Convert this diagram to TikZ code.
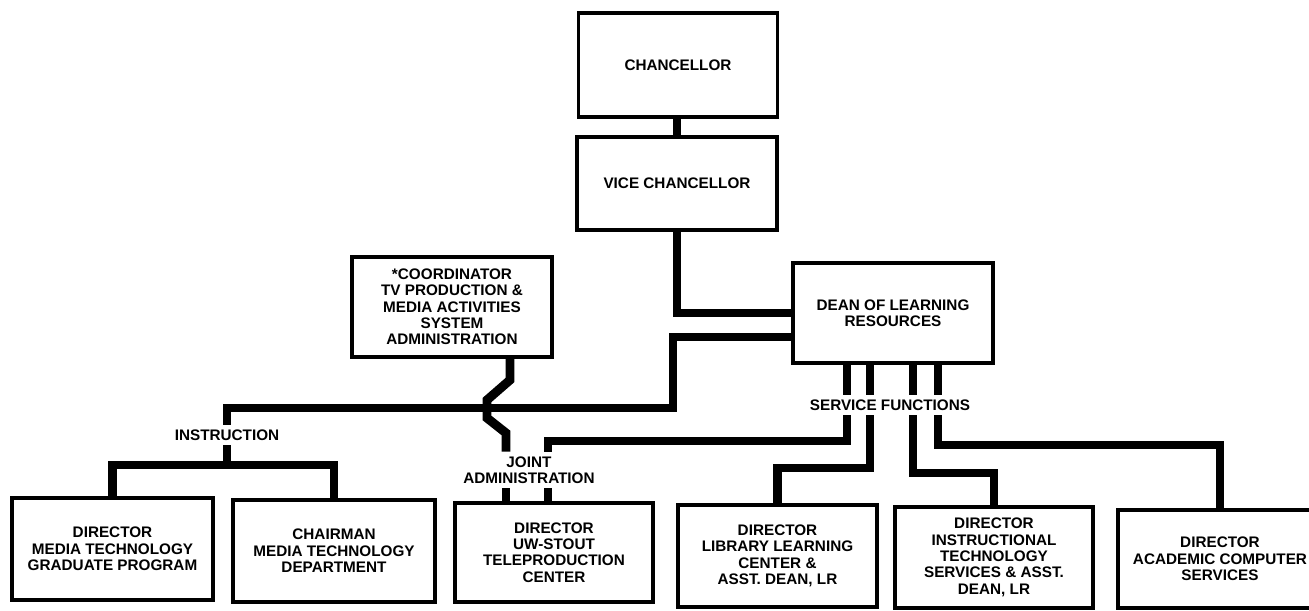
\documentclass[tikz,border=0pt]{standalone}
\usepackage{fontspec}
\setmainfont{Liberation Sans}
\usepackage{xcolor}
\definecolor{OrgInk}{HTML}{000000}
\usepackage{tikz}
\usetikzlibrary{calc, positioning}

\begin{document}
\begin{tikzpicture}[x=0.02cm, y=-0.02cm,
  office/.style={draw=OrgInk, line width=1.9pt, minimum width=4cm, minimum height=2cm,
    align=center, inner sep=2pt, font=\bfseries\fontsize{8.7}{9.3}\selectfont},
  grouptext/.style={align=center, inner sep=2.5pt, font=\bfseries\fontsize{8.7}{9.3}\selectfont},
  link/.style={draw=OrgInk, line width=5.1pt, line join=miter}]
\useasboundingbox (0,0) rectangle (1309,611);
% Upper offices
\node[office, minimum width=3.98cm, minimum height=2.08cm] (chan) at (678,65) {CHANCELLOR};
\node[office, minimum height=1.86cm] (vc) at (677,183.5) {VICE CHANCELLOR};
\node[office] (dean) at (893,313) {DEAN OF LEARNING\\RESOURCES};
\node[office] (coord) at (452,307)
  {*COORDINATOR\\TV PRODUCTION \&\\MEDIA ACTIVITIES\\SYSTEM\\ADMINISTRATION};
% Group headings
\node[grouptext] (instr) at (227,435) {INSTRUCTION};
\node[grouptext] (svc) at (890,405) {SERVICE FUNCTIONS};
\node[grouptext] (joint) at (529,470) {JOINT\\ADMINISTRATION};
% Lower offices
\node[office, minimum width=4.02cm, minimum height=2.04cm] (gradprog) at (112.5,549)
  {DIRECTOR\\MEDIA TECHNOLOGY\\GRADUATE PROGRAM};
\node[office, minimum width=4.04cm, minimum height=2.04cm] (dept) at (334,551)
  {CHAIRMAN\\MEDIA TECHNOLOGY\\DEPARTMENT};
\node[office, minimum width=3.96cm, minimum height=1.98cm] (telep) at (554,552.5)
  {DIRECTOR\\UW-STOUT\\TELEPRODUCTION\\CENTER};
\node[office, minimum width=3.98cm, minimum height=2.04cm] (library) at (777.5,556)
  {DIRECTOR\\LIBRARY LEARNING\\CENTER \&\\ASST. DEAN, LR};
\node[office, minimum width=3.96cm, minimum height=2.02cm] (itserv) at (994,557.5)
  {DIRECTOR\\INSTRUCTIONAL\\TECHNOLOGY\\SERVICES \& ASST.\\DEAN, LR};
\node[office, minimum width=4.08cm, minimum height=1.96cm] (acadcomp) at (1220,559)
  {DIRECTOR\\ACADEMIC COMPUTER\\SERVICES};
% Bend points
\coordinate (deanlow) at (793,337);
\coordinate (instrbar) at (227,465);
\coordinate (wtop) at (510,380);
\coordinate (jl) at (506,447);
\coordinate (jbend) at (548,441);
\coordinate (libbend) at (777.5,468);
\coordinate (itbend) at (994,473);
\coordinate (acbend) at (1220,445);
\foreach \sx [count=\i] in {847,870,913,938}
  \coordinate (sf\i) at (\sx,430);
% Line of command
\draw[link] (vc.north) -- (vc.north |- chan.south);
\draw[link] (vc.south) |- (dean.west);
\draw[link] (deanlow) -| (673,408) -| (instr.north);
\draw[link] (instr.south) -- (instrbar);
\draw[link] (gradprog.north) |- (instrbar) -| (dept.north);
% Coordinator crossing over to joint administration
\draw[link] (coord.south -| wtop) -- (wtop) -- (487,400) -- (487,418)
  -- (506,433) -- (jl |- joint.north);
\draw[link] (jl |- joint.south) -- (jl |- telep.north);
\draw[link] (jbend |- joint.south) -- (jbend |- telep.north);
% Service functions
\foreach \i in {1,...,4}
  \draw[link] (sf\i |- dean.south) -- (sf\i |- svc.north);
\draw[link] (sf1 |- svc.south) |- (jbend) -- (jbend |- joint.north);
\draw[link] (sf2 |- svc.south) |- (libbend) -- (library.north);
\draw[link] (sf3 |- svc.south) |- (itbend) -- (itserv.north);
\draw[link] (sf4 |- svc.south) |- (acbend) -- (acadcomp.north);
\end{tikzpicture}
\end{document}
